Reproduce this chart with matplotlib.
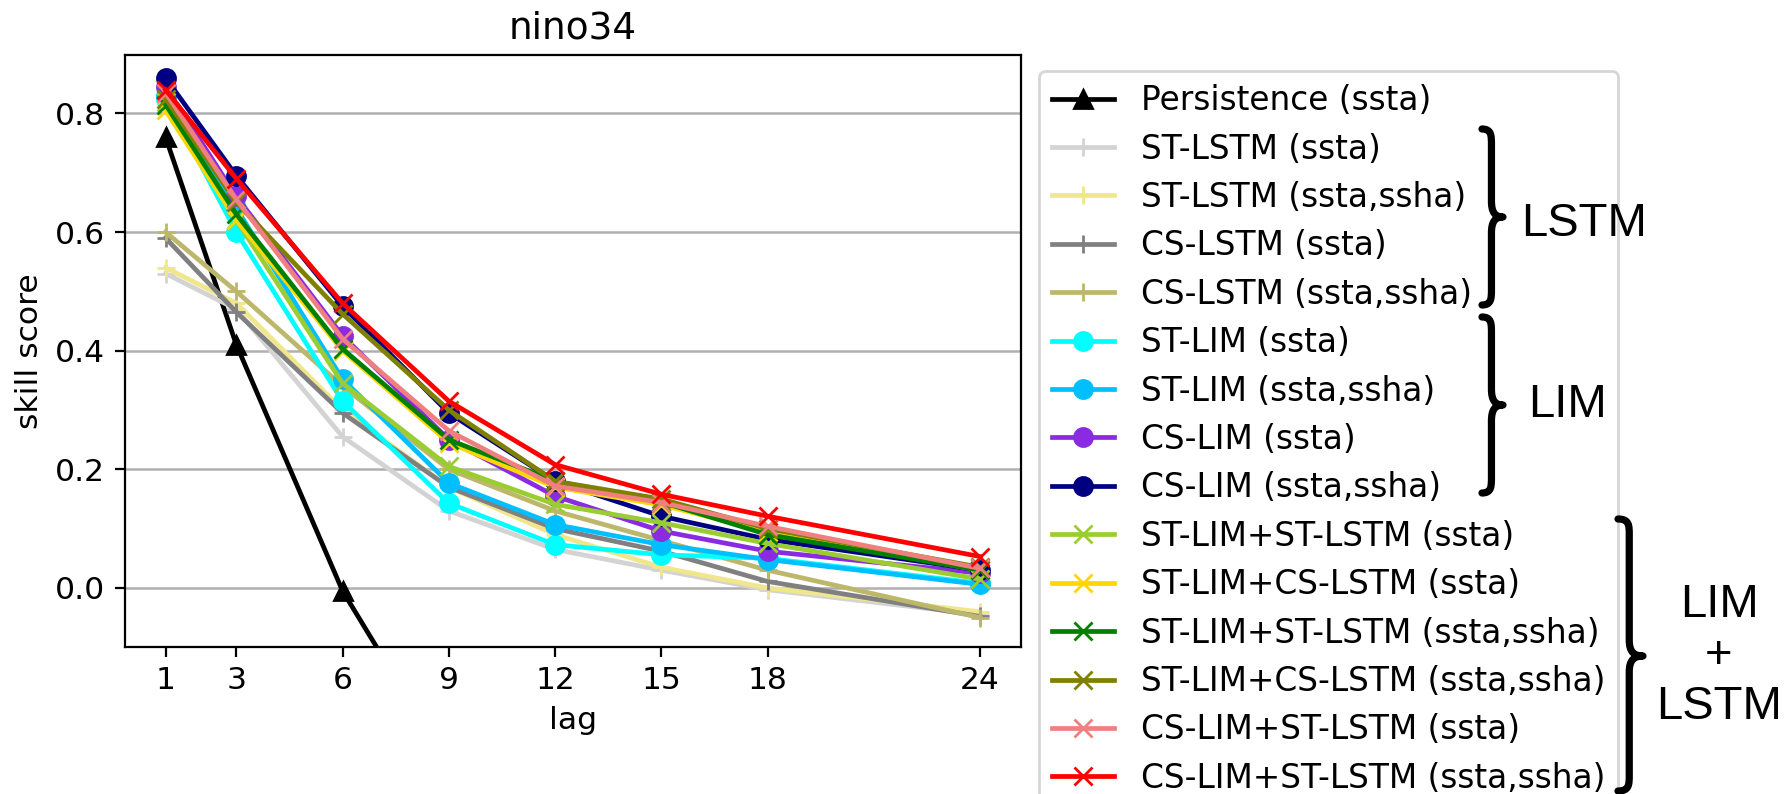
"""Skill score vs lag for the nino34 index, persistence / LSTM / LIM / hybrid forecasts."""
import matplotlib

matplotlib.use("Agg")
import matplotlib.pyplot as plt
from matplotlib.patches import PathPatch
from matplotlib.path import Path

lags = [1, 3, 6, 9, 12, 15, 18, 24]

persistence = [0.76, 0.41, -0.005, -0.30, -0.38, -0.32, -0.25, -0.20]
st_lstm = [0.53, 0.47, 0.255, 0.13, 0.065, 0.03, -0.003, -0.045]
st_lstm_ssha = [0.54, 0.48, 0.30, 0.17, 0.09, 0.035, 0.0, -0.04]
cs_lstm = [0.59, 0.465, 0.295, 0.17, 0.10, 0.062, 0.011, -0.048]
cs_lstm_ssha = [0.60, 0.50, 0.34, 0.20, 0.13, 0.08, 0.03, -0.05]
st_lim = [0.825, 0.60, 0.315, 0.143, 0.073, 0.056, 0.05, 0.008]
st_lim_ssha = [0.83, 0.64, 0.352, 0.177, 0.107, 0.073, 0.048, 0.006]
cs_lim = [0.845, 0.66, 0.425, 0.25, 0.155, 0.096, 0.062, 0.025]
cs_lim_ssha = [0.86, 0.695, 0.475, 0.295, 0.18, 0.121, 0.082, 0.03]
stlim_stlstm = [0.82, 0.62, 0.345, 0.205, 0.141, 0.11, 0.075, 0.015]
stlim_cslstm = [0.805, 0.62, 0.40, 0.245, 0.17, 0.14, 0.095, 0.03]
stlim_stlstm_ssha = [0.815, 0.63, 0.403, 0.25, 0.18, 0.145, 0.09, 0.03]
stlim_cslstm_ssha = [0.825, 0.65, 0.462, 0.30, 0.18, 0.15, 0.10, 0.035]
cslim_stlstm = [0.835, 0.655, 0.42, 0.265, 0.172, 0.144, 0.104, 0.033]
cslim_stlstm_ssha = [0.84, 0.69, 0.48, 0.315, 0.208, 0.158, 0.121, 0.053]

series = [
    ("Persistence (ssta)", persistence, "black", "^"),
    ("ST-LSTM (ssta)", st_lstm, "lightgray", "+"),
    ("ST-LSTM (ssta,ssha)", st_lstm_ssha, "khaki", "+"),
    ("CS-LSTM (ssta)", cs_lstm, "gray", "+"),
    ("CS-LSTM (ssta,ssha)", cs_lstm_ssha, "darkkhaki", "+"),
    ("ST-LIM (ssta)", st_lim, "cyan", "o"),
    ("ST-LIM (ssta,ssha)", st_lim_ssha, "deepskyblue", "o"),
    ("CS-LIM (ssta)", cs_lim, "blueviolet", "o"),
    ("CS-LIM (ssta,ssha)", cs_lim_ssha, "navy", "o"),
    ("ST-LIM+ST-LSTM (ssta)", stlim_stlstm, "yellowgreen", "x"),
    ("ST-LIM+CS-LSTM (ssta)", stlim_cslstm, "gold", "x"),
    ("ST-LIM+ST-LSTM (ssta,ssha)", stlim_stlstm_ssha, "green", "x"),
    ("ST-LIM+CS-LSTM (ssta,ssha)", stlim_cslstm_ssha, "olive", "x"),
    ("CS-LIM+ST-LSTM (ssta)", cslim_stlstm, "lightcoral", "x"),
    ("CS-LIM+ST-LSTM (ssta,ssha)", cslim_stlstm_ssha, "red", "x"),
]

groups = [
    # label, curl x, tip x, top y, bottom y, tip y, label x, label y  (pixels from top-left)
    ("LSTM", 1482, 1503, 129, 305, 217, 1584, 224),
    ("LIM", 1482, 1503, 317, 493, 405, 1567, 405),
    ("LIM\n+\nLSTM", 1618, 1643, 519, 791, 656, 1719, 656),
]

plt.rcParams["font.size"] = 11.3

W, H = 1787, 794
DPI = 200
fig = plt.figure(figsize=(W / DPI, H / DPI), dpi=DPI)
ax = fig.add_axes([124.8 / W, 147.3 / H, 895.9 / W, 591.7 / H])

for label, vals, color, marker in series:
    ax.plot(lags, vals, color=color, marker=marker, lw=1.7, ms=6.5, label=label)

ax.set_xticks(lags)
ax.set_xlim(-0.15, 25.15)
ax.set_ylim(-0.099, 0.8985)
ax.grid(axis="y", color="#b0b0b0", lw=0.9)
ax.set_xlabel("lag")
ax.set_ylabel("skill score")
ax.set_title("nino34", fontsize=13.5)

ax.legend(loc="upper left", bbox_to_anchor=(1039 / W, 1 - 71 / H),
          bbox_transform=fig.transFigure, borderaxespad=0.0,
          fontsize=11.8, labelspacing=0.47, handlelength=1.9)


def brace(x0, x1, ytop, ybot, ytip, curl=16):
    """Right-facing curly brace in pixel coords (origin top-left)."""
    xm = x0 + (x1 - x0) * 0.45
    pts = [
        (x0, ytop), (xm, ytop), (xm, ytop + curl * 0.4), (xm, ytop + curl),
        (xm, ytip - curl),
        (xm, ytip - curl * 0.3), (xm + (x1 - xm) * 0.3, ytip), (x1, ytip),
        (xm + (x1 - xm) * 0.3, ytip), (xm, ytip + curl * 0.3), (xm, ytip + curl),
        (xm, ybot - curl),
        (xm, ybot - curl * 0.4), (xm, ybot), (x0, ybot),
    ]
    codes = ([Path.MOVETO] + [Path.CURVE4] * 3 + [Path.LINETO] + [Path.CURVE4] * 6
             + [Path.LINETO] + [Path.CURVE4] * 3)
    verts = [(x / W, 1 - y / H) for x, y in pts]
    patch = PathPatch(Path(verts, codes), fill=False, lw=2.6, color="black",
                      transform=fig.transFigure, capstyle="round", joinstyle="round")
    fig.add_artist(patch)


for text, x0, x1, ytop, ybot, ytip, tx, ty in groups:
    brace(x0, x1, ytop, ybot, ytip)
    fig.text(tx / W, 1 - ty / H, text, ha="center", va="center", fontsize=17,
             family="Liberation Sans", linespacing=1.2)

fig.savefig("out.png", dpi=DPI)
